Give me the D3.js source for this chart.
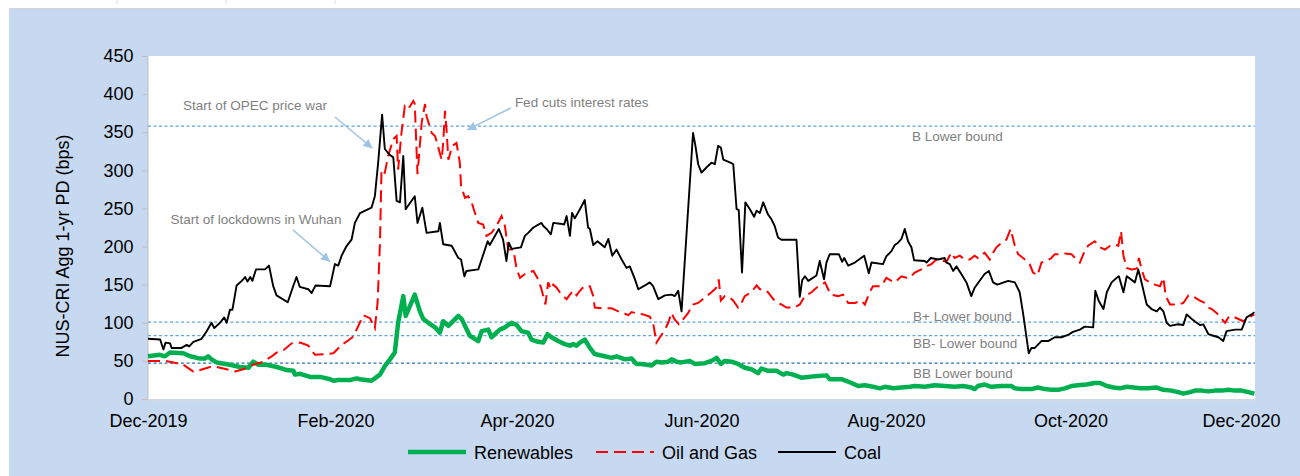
<!DOCTYPE html>
<html>
<head>
<meta charset="utf-8">
<script src="https://cdn.jsdelivr.net/npm/d3@7"></script>
<style>
    body { margin: 0; background: #fff; }
    svg { display: block; font-family: "Liberation Sans", Arial, sans-serif; }
</style>
</head>
<body>
<div id="chart"></div>
<script>
// day = days since 1 Dec 2019, value = 1-yr PD in bps
const startDate = Date.UTC(2019, 11, 1)

const renewables = [
    [0,56],[3.9,58],[5.6,56],[7.3,61],[11.7,60],[13.9,56],[17.2,53],[18.8,53],[19.9,56],[21.0,52],[22.7,48],
    [27.1,45],[30.4,42],[33.2,41],[34.8,49],[36.5,45],[39.2,45],[42.6,42],[45.9,38],[48.1,37],[48.6,32],[50.3,33],
    [53.6,29],[56.9,29],[60.2,26],[61.3,24],[62.9,25],[66.8,25],[69.0,27],[70.1,26],[73.9,24],[75.0,27],[76.7,32],
    [78.3,43],[80.0,52],[81.6,61],[82.7,100],[84.4,135],[85.2,109],[88.2,137],[89.9,115],[91.0,105],[92.7,100],
    [94.9,94],[96.5,87],[97.6,102],[99.3,96],[102.6,109],[103.7,105],[106.4,83],[109.2,76],[110.3,89],[112.5,91],
    [113.6,81],[116.3,91],[118.0,94],[120.2,100],[121.9,97],[123.5,89],[125.7,87],[126.8,78],[129.0,75],[130.7,74],
    [132.1,85],[133.4,81],[135.6,76],[137.8,72],[139.5,70],[140.6,72],[141.7,70],[142.8,74],[144.4,78],[146.1,67],
    [147.7,59],[151.0,56],[153.3,54],[154.9,56],[157.7,52],[159.9,53],[161.5,46],[163.2,46],[166.5,44],[168.1,49],
    [169.8,48],[172.0,49],[173.1,52],[174.7,49],[176.4,48],[179.1,50],[180.8,46],[184.1,47],[186.3,50],[188.0,54],
    [189.4,46],[190.7,50],[192.9,49],[195.1,46],[197.3,41],[199.5,39],[201.7,34],[202.8,40],[205.0,37],[207.8,37],
    [210.0,32],[211.1,34],[213.3,32],[216.0,28],[218.3,29],[220.5,30],[224.3,31],[225.4,26],[229.3,26],[232.6,21],
    [234.8,17],[237.0,18],[239.7,16],[242.0,14],[243.6,16],[246.4,14],[249.1,15],[251.9,16],[253.5,17],[256.8,16],
    [260.1,18],[263.4,17],[266.7,16],[269.5,17],[272.2,15],[273.3,13],[274.4,17],[276.6,19],[278.8,16],[282.2,17],
    [285.5,17],[286.6,14],[288.8,13],[292.1,13],[294.3,15],[296.5,13],[298.7,12],[300.9,12],[303.1,14],[305.3,17],
    [307.5,18],[310.3,19],[313.0,21],[314.8,21],[317.0,17],[319.2,15],[321.4,14],[323.6,16],[325.8,15],[328.0,14],
    [330.7,14],[333.5,15],[335.7,12],[338.4,11],[340.6,9],[342.3,7],[344.5,9],[346.2,11],[348.4,11],[350.6,10],
    [352.8,11],[355.0,11],[357.2,12],[359.4,11],[361.6,11],[363.8,9],[365.8,7]
]

const oilGas = [
    [0,50],[2.9,50],[5.7,50],[8.4,48],[11.7,45],[15.0,36],[17.2,38],[20.5,42],[22.7,42],[26.0,39],[28.8,36],
    [31.5,39],[34.8,45],[38.2,49],[40.9,56],[42.6,61],[44.8,64],[47.5,73],[50.3,74],[53.0,70],[55.2,58],[58.6,59],
    [61.3,60],[64.0,71],[66.3,77],[67.9,82],[71.2,110],[73.4,106],[75.0,93],[75.9,126],[76.7,205],[77.2,301],
    [78.3,297],[79.4,319],[81.1,341],[82.2,345],[82.7,301],[83.8,349],[84.9,384],[86.0,380],[87.7,391],[88.2,387],
    [89.1,295],[90.5,363],[91.6,387],[92.1,371],[93.8,349],[94.9,345],[97.1,314],[97.6,336],[98.2,378],[98.7,354],
    [99.3,314],[100.6,332],[102.0,336],[103.1,310],[103.5,279],[104.8,264],[105.9,266],[107.0,258],[108.1,244],
    [109.2,231],[110.8,229],[111.9,214],[113.6,218],[115.2,227],[116.9,240],[118.0,227],[119.1,196],[120.8,196],
    [121.9,170],[123.0,159],[124.6,164],[125.7,166],[127.4,168],[129.0,157],[130.1,144],[131.4,124],[132.3,153],
    [133.2,144],[134.0,150],[135.1,146],[136.7,137],[138.4,131],[139.5,137],[140.6,142],[141.7,136],[142.8,142],
    [144.2,148],[146.1,148],[147.2,135],[147.7,120],[150.5,119],[153.3,119],[155.5,115],[157.1,113],[158.8,110],
    [159.9,114],[161.0,113],[163.7,111],[165.9,108],[167.0,100],[168.1,74],[169.6,83],[170.9,91],[172.0,100],
    [173.1,113],[174.0,105],[175.5,98],[176.4,102],[178.6,113],[180.2,124],[181.9,126],[184.7,135],[186.3,140],
    [187.4,144],[188.3,148],[188.7,157],[189.4,129],[190.7,135],[192.4,133],[193.5,129],[195.1,120],[196.2,126],
    [197.3,135],[199.5,140],[201.2,149],[202.3,144],[203.7,144],[205.0,140],[206.7,131],[208.3,126],[209.4,124],
    [211.1,120],[213.8,120],[215.5,124],[217.2,135],[219.4,140],[221.0,146],[222.7,150],[223.8,153],[224.9,144],
    [225.7,137],[228.2,135],[229.8,137],[231.5,126],[233.7,126],[235.9,129],[237.0,124],[238.6,140],[239.7,148],
    [242.5,148],[244.1,159],[245.8,155],[246.9,153],[249.1,161],[250.8,159],[251.9,159],[253.5,166],[255.7,170],
    [257.9,175],[259.0,177],[260.7,183],[262.3,182],[264.0,180],[265.6,192],[266.7,185],[268.4,188],[270.0,183],
    [271.7,183],[273.3,188],[274.4,185],[276.6,192],[278.3,183],[279.4,192],[280.5,199],[282.2,205],[283.8,209],
    [285.2,223],[286.6,201],[287.7,190],[289.9,183],[291.5,177],[292.6,166],[294.1,162],[295.4,179],[297.0,181],
    [298.7,185],[299.8,190],[300.9,190],[303.1,191],[305.3,190],[307.0,183],[308.1,179],[309.7,194],[310.8,201],
    [311.9,204],[313.0,207],[314.8,199],[316.4,196],[318.1,201],[319.7,203],[320.8,201],[321.7,220],[322.5,188],
    [323.6,172],[325.2,170],[326.9,171],[327.6,185],[328.5,170],[329.6,157],[331.3,153],[332.9,150],[334.6,148],
    [335.7,159],[336.5,135],[337.9,124],[340.6,124],[342.3,126],[344.0,136],[346.2,133],[347.8,129],[349.5,126],
    [350.6,120],[351.7,118],[353.3,113],[355.0,105],[356.1,100],[357.2,107],[358.3,109],[360.5,105],[362.1,102],
    [363.2,105],[364.9,109],[365.8,111]
]

const coal = [
    [0,79],[4.0,78],[5.1,65],[5.8,74],[7.3,73],[7.8,67],[11.1,67],[12.8,71],[13.6,69],[15.0,75],[17.7,79],
    [19.4,89],[21.0,100],[21.9,93],[23.8,100],[25.2,107],[26.0,100],[27.1,117],[27.9,117],[29.3,149],[31.0,155],
    [32.1,160],[32.9,154],[33.8,160],[34.5,155],[35.7,170],[38.7,170],[40.0,175],[41.4,148],[42.5,136],[46.2,127],
    [48.0,148],[49.1,160],[50.2,147],[53.0,144],[54.1,139],[55.4,149],[60.2,148],[61.8,177],[62.9,175],[64.0,188],
    [65.7,201],[67.3,209],[68.4,231],[70.1,244],[73.9,251],[75.0,266],[76.1,310],[77.4,373],[78.3,328],[80.0,320],
    [81.1,317],[82.2,260],[83.3,258],[84.4,319],[85.2,249],[88.2,266],[89.1,231],[90.7,251],[92.1,218],[96.0,220],
    [96.5,231],[97.6,203],[100.4,201],[102.6,185],[103.5,183],[104.6,161],[105.3,168],[109.2,170],[110.3,183],
    [112.3,207],[113.0,202],[116.0,223],[117.4,209],[118.5,181],[119.3,205],[120.2,197],[123.3,199],[124.6,214],
    [125.7,218],[127.4,225],[130.1,231],[130.7,227],[131.8,223],[133.2,216],[134.0,231],[136.2,230],[137.6,229],
    [138.4,240],[139.5,214],[140.2,244],[141.1,237],[142.8,249],[144.4,261],[145.5,225],[146.1,223],[147.2,202],
    [148.6,207],[151.0,199],[152.2,210],[153.5,188],[154.9,196],[156.6,183],[158.2,172],[159.3,174],[161.0,157],
    [162.1,144],[164.3,149],[165.9,153],[167.0,148],[168.7,131],[170.9,136],[173.1,137],[174.2,135],[175.3,142],
    [176.4,115],[180.2,349],[181.0,332],[181.9,308],[183.0,297],[184.7,304],[186.3,310],[187.4,308],[188.5,332],
    [189.4,330],[190.2,314],[193.1,309],[193.5,308],[194.6,249],[195.3,248],[196.4,166],[197.5,258],[199.0,249],
    [200.4,239],[201.2,247],[202.3,244],[203.4,258],[205.0,242],[206.1,236],[207.2,227],[208.3,212],[209.4,209],
    [214.4,209],[215.5,134],[216.3,156],[217.2,161],[218.3,155],[221.0,162],[222.1,181],[223.5,157],[224.3,179],
    [225.4,190],[228.4,190],[229.5,180],[230.2,185],[231.5,175],[233.7,179],[236.8,188],[238.3,165],[239.2,179],
    [243.0,177],[244.1,187],[245.8,194],[246.9,202],[248.0,205],[249.1,210],[250.2,223],[251.3,207],[252.4,199],
    [253.3,182],[256.8,181],[257.4,179],[258.8,185],[260.1,184],[261.2,183],[263.4,185],[264.0,179],[265.1,177],
    [266.2,168],[267.3,174],[268.9,164],[270.6,153],[272.2,135],[273.3,146],[276.6,164],[278.0,168],[279.4,153],
    [280.8,150],[284.4,155],[286.6,153],[288.2,140],[289.3,113],[291.2,60],[292.1,67],[293.2,67],[295.4,76],
    [297.6,76],[299.8,81],[302.0,81],[304.2,84],[305.8,88],[308.1,91],[309.7,95],[312.5,94],[313.2,142],[314.3,129],
    [315.9,118],[317.0,140],[318.6,153],[320.3,159],[321.0,161],[322.5,140],[323.6,161],[326.3,153],[327.4,170],
    [328.0,161],[330.2,124],[331.8,118],[333.5,115],[334.6,120],[335.7,115],[336.8,100],[337.9,96],[340.6,98],
    [342.3,97],[343.4,111],[345.1,105],[346.7,100],[347.8,97],[348.9,98],[350.6,85],[352.2,83],[353.9,81],
    [355.5,76],[356.6,89],[359.4,91],[361.6,91],[363.2,107],[364.9,111],[365.8,114]
]

const xTickDays = [0, 62, 122, 183, 244, 305, 366]
const yTicks = [0, 50, 100, 150, 200, 250, 300, 350, 400, 450]

const boundNames = ["B Lower bound", "B+ Lower bound", "BB- Lower bound", "BB Lower bound"]
const boundValues = [358, 101, 83, 47]

const notes = ["Start of OPEC price war", "Start of lockdowns in Wuhan", "Fed cuts interest rates"]

const seriesNames = ["Renewables", "Oil and Gas", "Coal"]

const width = 1300, height = 476
const margin = { left: 148, right: 45, top: 56, bottom: 77 }

const toDate = (day) => new Date(startDate + day * 86400000)

const svg = d3.select("#chart")
    .append("svg")
    .attr("width", width)
    .attr("height", height)

// outer panel
svg.append("rect")
    .attr("x", 9)
    .attr("y", 9)
    .attr("width", width - 9)
    .attr("height", height - 9)
    .attr("fill", "#c6d9f0")
svg.append("line")
    .attr("x1", 9).attr("x2", width)
    .attr("y1", 8.5).attr("y2", 8.5)
    .attr("stroke", "#d4d4d4")
svg.selectAll(".top-tick")
    .data([117, 226, 335])
    .join("line")
    .attr("x1", d => d).attr("x2", d => d)
    .attr("y1", 0).attr("y2", 4)
    .attr("stroke", "#dcdcdc")

const x = d3.scaleUtc()
    .domain([toDate(0), toDate(366)])
    .range([margin.left, width - margin.right])

const y = d3.scaleLinear()
    .domain([0, 450])
    .range([height - margin.bottom, margin.top])

// plot area
svg.append("rect")
    .attr("x", x.range()[0])
    .attr("y", y(450))
    .attr("width", x.range()[1] - x.range()[0])
    .attr("height", y(0) - y(450))
    .attr("fill", "#fff")

// y axis
const yAxis = svg.append("g")
    .attr("transform", `translate(${margin.left - 0.5},0)`)
    .call(d3.axisLeft(y).tickValues(yTicks).tickSize(5).tickPadding(9))
yAxis.select(".domain").attr("stroke", "#bfbfbf")
yAxis.selectAll(".tick line").attr("stroke", "#bfbfbf")
yAxis.selectAll("text")
    .attr("fill", "#000")
    .style("font-size", "18px")
    .style("font-family", "Liberation Sans, Arial, sans-serif")

// x axis (labels only, light base line)
const xAxis = svg.append("g")
    .attr("transform", `translate(0,${y(0) + 0.5})`)
    .call(d3.axisBottom(x)
        .tickValues(xTickDays.map(toDate))
        .tickFormat(d3.utcFormat("%b-%Y"))
        .tickSize(0)
        .tickPadding(15))
xAxis.select(".domain").attr("stroke", "#d9d9d9")
xAxis.selectAll("text")
    .attr("fill", "#000")
    .style("font-size", "18px")
    .style("font-family", "Liberation Sans, Arial, sans-serif")
// last label pulled in like the spreadsheet does
xAxis.selectAll("text").filter((d, i) => i == xTickDays.length - 1)
    .attr("dx", -14)

// axis title
svg.append("text")
    .attr("transform", `translate(69,${246}) rotate(-90)`)
    .attr("text-anchor", "middle")
    .style("font-size", "18px")
    .attr("fill", "#000")
    .text("NUS-CRI Agg 1-yr PD (bps)")

// rating bounds
svg.selectAll(".bound")
    .data(boundValues)
    .join("line")
    .attr("class", "bound")
    .attr("x1", x.range()[0])
    .attr("x2", x.range()[1])
    .attr("y1", d => y(d))
    .attr("y2", d => y(d))
    .attr("stroke", (d, i) => i == 3 ? "#2e6fb7" : "#5fa3dc")
    .attr("stroke-width", 1.25)
    .attr("stroke-dasharray", "3,2.5")

const boundOffsets = [15, -1, 12.5, 14.5]
svg.selectAll(".bound-label")
    .data(boundNames)
    .join("text")
    .attr("class", "bound-label")
    .attr("x", (d, i) => x(toDate(252.6)) + (i == 0 ? 0 : 1))
    .attr("y", (d, i) => y(boundValues[i]) + boundOffsets[i])
    .style("font-size", "13.5px")
    .attr("fill", "#7f7f7f")
    .text(d => d)

// series
const line = d3.line()
    .x(d => x(toDate(d[0])))
    .y(d => y(d[1]))

svg.append("path")
    .datum(renewables)
    .attr("d", line)
    .attr("fill", "none")
    .attr("stroke", "#00b050")
    .attr("stroke-width", 4.5)
    .attr("stroke-linejoin", "round")

svg.append("path")
    .datum(oilGas)
    .attr("d", line)
    .attr("fill", "none")
    .attr("stroke", "#ff0000")
    .attr("stroke-width", 2)
    .attr("stroke-dasharray", "12,6")

svg.append("path")
    .datum(coal)
    .attr("d", line)
    .attr("fill", "none")
    .attr("stroke", "#000")
    .attr("stroke-width", 1.9)
    .attr("stroke-linejoin", "round")

// annotations
svg.append("defs")
    .append("marker")
    .attr("id", "arrow")
    .attr("viewBox", "0 0 10 10")
    .attr("refX", 10)
    .attr("refY", 5)
    .attr("markerWidth", 7)
    .attr("markerHeight", 6)
    .attr("markerUnits", "strokeWidth")
    .attr("orient", "auto")
    .append("path")
    .attr("d", "M0,0L10,5L0,10Z")
    .attr("fill", "#9dc3e6")

// [text day, text value, anchor, arrow from day/value, arrow to day/value]
const notePos = [
    [35.4, 386, "middle", [61.8, 370], [74.2, 329]],
    [35.7, 236, "middle", [47.9, 222], [60.2, 180]],
    [121.3, 390, "start", [120.0, 382], [105.5, 353]]
]

svg.selectAll(".note")
    .data(notes)
    .join("text")
    .attr("class", "note")
    .attr("x", (d, i) => x(toDate(notePos[i][0])))
    .attr("y", (d, i) => y(notePos[i][1]) + 5)
    .attr("text-anchor", (d, i) => notePos[i][2])
    .style("font-size", "13.5px")
    .attr("fill", "#7f7f7f")
    .text(d => d)

svg.selectAll(".note-arrow")
    .data(notePos)
    .join("line")
    .attr("class", "note-arrow")
    .attr("x1", d => x(toDate(d[3][0])))
    .attr("y1", d => y(d[3][1]))
    .attr("x2", d => x(toDate(d[4][0])))
    .attr("y2", d => y(d[4][1]))
    .attr("stroke", "#9dc3e6")
    .attr("stroke-width", 1.5)
    .attr("marker-end", "url(#arrow)")

// legend
const legendStyles = [
    { color: "#00b050", w: 4.5, dash: null, x: 408 },
    { color: "#ff0000", w: 2, dash: "12,6", x: 596 },
    { color: "#000", w: 1.9, dash: null, x: 778 }
]
const legend = svg.append("g").attr("transform", "translate(0,452)")
legend.selectAll("line")
    .data(seriesNames)
    .join("line")
    .attr("x1", (d, i) => legendStyles[i].x)
    .attr("x2", (d, i) => legendStyles[i].x + 58)
    .attr("y1", 0).attr("y2", 0)
    .attr("stroke", (d, i) => legendStyles[i].color)
    .attr("stroke-width", (d, i) => legendStyles[i].w)
    .attr("stroke-dasharray", (d, i) => legendStyles[i].dash)
legend.selectAll("text")
    .data(seriesNames)
    .join("text")
    .attr("x", (d, i) => legendStyles[i].x + 66)
    .attr("y", 6.5)
    .style("font-size", "18px")
    .attr("fill", "#000")
    .text(d => d)
</script>
</body>
</html>
